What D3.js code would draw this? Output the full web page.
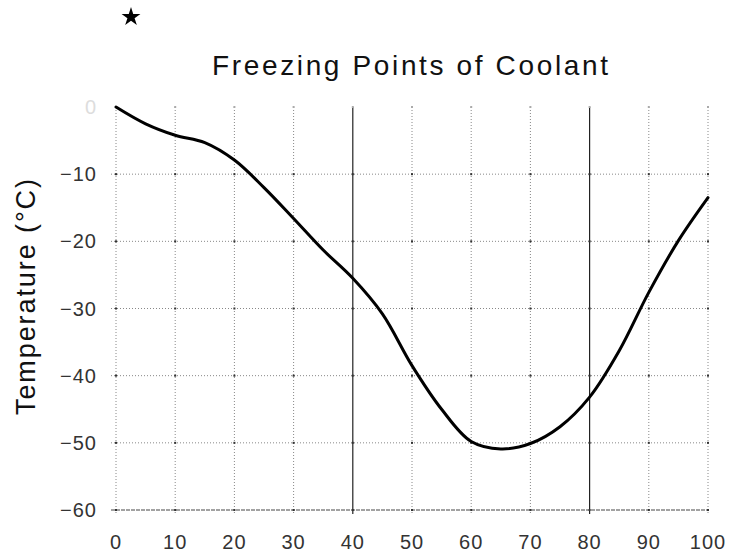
<!DOCTYPE html>
<html><head><meta charset="utf-8">
<script src="https://cdn.jsdelivr.net/npm/d3@7"></script>
<style>body{margin:0;background:#fff}svg{display:block}</style>
</head><body><svg id="c" width="729" height="553"></svg>
<script>
const concentration = [0,5,10,15,20,25,30,35,40,45,50,55,60,65,70,75,80,85,90,95,100];
const freezingPoint = [0,-2.5,-4.2,-5.3,-7.9,-12,-16.6,-21.3,-25.5,-30.8,-38.5,-45,-49.8,-50.9,-50.1,-47.6,-43.2,-36.3,-27.6,-19.9,-13.5];
const xTicks = [0,10,20,30,40,50,60,70,80,90,100];
const yTicks = [0,-10,-20,-30,-40,-50,-60];
const titleText = "Freezing Points of Coolant";
const yLabel = "Temperature (°C)";

const svg = d3.select("#c");
const x = d3.scaleLinear().domain([0,100]).range([116,708]);
const y = d3.scaleLinear().domain([0,-60]).range([107,510]);

// gridlines
const g = svg.append("g");
g.selectAll(".vg").data(xTicks).join("line")
  .attr("x1",d=>x(d)).attr("x2",d=>x(d)).attr("y1",y(0)).attr("y2",y(-60)+4)
  .attr("stroke",d=>(d===40||d===80)?"#222":"#888")
  .attr("stroke-width",d=>(d===40||d===80)?1.2:1)
  .attr("stroke-dasharray",d=>(d===40||d===80)?null:"1,2");
g.selectAll(".hg").data(yTicks.filter(d=>d!==0)).join("line")
  .attr("x1",x(0)-5).attr("x2",x(100)).attr("y1",d=>y(d)).attr("y2",d=>y(d))
  .attr("stroke",d=>d===-60?"#444":"#888")
  .attr("stroke-width",1)
  .attr("stroke-dasharray",d=>d===-60?"4,1":"1,2");
const pts=[];
xTicks.forEach(a=>yTicks.forEach(b=>pts.push([a,b])));
g.selectAll(".dot").data(pts).join("rect")
  .attr("x",d=>x(d[0])-1).attr("y",d=>y(d[1])-1).attr("width",2).attr("height",2)
  .attr("fill",d=>d[1]===0?"#aaa":"#333");

const line = d3.line().x((d,i)=>x(concentration[i])).y(d=>y(d)).curve(d3.curveCatmullRom.alpha(0.5));
svg.append("path").datum(freezingPoint).attr("d",line)
  .attr("fill","none").attr("stroke","#000").attr("stroke-width",3).attr("stroke-linejoin","round").attr("stroke-linecap","round");

const font="'Liberation Sans', Arial, sans-serif";
svg.append("g").selectAll("text").data(xTicks).join("text")
  .attr("x",d=>x(d)).attr("y",549).attr("text-anchor","middle")
  .attr("font-family",font).attr("font-size",20).attr("fill","#333")
  .attr("letter-spacing",1)
  .text(d=>d);
svg.append("g").selectAll("text").data(yTicks).join("text")
  .attr("x",97).attr("y",d=>y(d)+7).attr("text-anchor","end")
  .attr("font-family",font).attr("font-size",20).attr("fill",d=>d===0?"#ddd":"#333")
  .attr("letter-spacing",1)
  .text(d=>d===0?"0":"\u2212"+Math.abs(d));

svg.append("text").attr("transform","translate(35,297) rotate(-90)")
  .attr("text-anchor","middle").attr("font-family",font).attr("font-size",27)
  .attr("fill","#111").attr("textLength",236).attr("lengthAdjust","spacing")
  .text(yLabel);

svg.append("text").attr("x",410).attr("y",75).attr("text-anchor","middle")
  .attr("font-family",font).attr("font-size",28).attr("fill","#111")
  .attr("textLength",396).attr("lengthAdjust","spacing")
  .text(titleText);

svg.append("path").attr("d",d3.symbol().type(d3.symbolStar).size(110)())
  .attr("transform","translate(131,17)").attr("fill","#000");
</script></body></html>
